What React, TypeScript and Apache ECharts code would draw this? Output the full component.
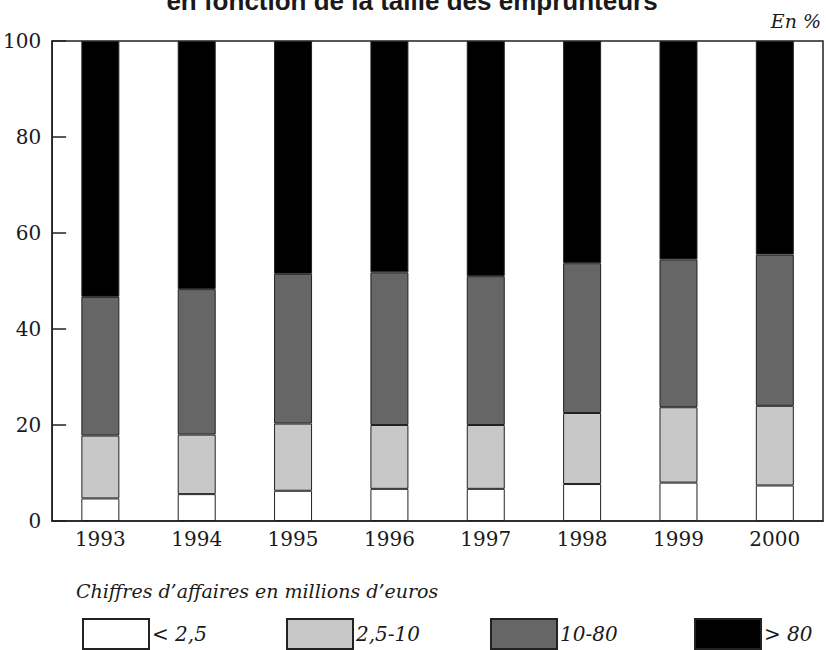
import React, { useEffect, useRef } from "react";
import * as echarts from "echarts";

const years = ["1993", "1994", "1995", "1996", "1997", "1998", "1999", "2000"];
const seriesNames = ["< 2,5", "2,5-10", "10-80", "> 80"];
const small = [4.7, 5.6, 6.3, 6.7, 6.7, 7.7, 8.0, 7.4];
const mediumSmall = [13.1, 12.4, 14.0, 13.3, 13.3, 14.8, 15.7, 16.6];
const mediumLarge = [28.9, 30.3, 31.2, 31.8, 31.0, 31.2, 30.8, 31.5];
const large = [53.3, 51.7, 48.5, 48.2, 49.0, 46.3, 45.5, 44.5];
const seriesValues = [small, mediumSmall, mediumLarge, large];
const seriesColors = ["#ffffff", "#c8c8c8", "#666666", "#000000"];
const yTicks = [0, 20, 40, 60, 80, 100];

const serif = "DejaVu Serif";
const sans = "Liberation Sans";
const ink = "#1a1a1a";

export default function App() {
  const ref = useRef<HTMLDivElement>(null);
  useEffect(() => {
    document.body.style.margin = "0";
    if (!ref.current) return;
    const chart = echarts.init(ref.current, undefined, { renderer: "svg" });
    chart.setOption({
      animation: false,
      backgroundColor: "#ffffff",
      grid: {
        left: 51,
        right: 3,
        top: 41,
        bottom: 129,
        show: true,
        borderColor: "#222222",
        borderWidth: 1.5,
        backgroundColor: "transparent",
      },
      xAxis: {
        type: "category",
        data: years,
        axisLine: { show: true, lineStyle: { color: "#222222", width: 1.5 } },
        axisTick: { show: false },
        axisLabel: { color: ink, fontFamily: serif, fontSize: 20, margin: 8 },
      },
      yAxis: {
        type: "value",
        min: yTicks[0],
        max: yTicks[yTicks.length - 1],
        interval: 20,
        axisLine: { show: true, lineStyle: { color: "#222222", width: 1.5 } },
        axisTick: { show: true, inside: true, length: 14, lineStyle: { color: "#222222", width: 1.5 } },
        splitLine: { show: false },
        axisLabel: { color: ink, fontFamily: serif, fontSize: 20, margin: 11 },
      },
      legend: seriesNames.map((name, i) => ({
        data: [name],
        left: 82 + 204 * i,
        top: 618,
        itemWidth: 66,
        itemHeight: 30,
        itemGap: 0,
        icon: "rect",
        textStyle: { color: ink, fontFamily: serif, fontStyle: "italic", fontSize: 20, padding: [0, 0, 0, -2] },
        padding: 0,
        selectedMode: false,
      })),
      series: seriesNames.map((name, i) => ({
        name,
        type: "bar",
        stack: "total",
        data: seriesValues[i],
        barWidth: 38,
        itemStyle: { color: seriesColors[i], borderColor: "#222222", borderWidth: 1 },
      })),
      graphic: [
        {
          type: "text",
          x: 412,
          y: 14,
          style: {
            text: "en fonction de la taille des emprunteurs",
            fontFamily: sans,
            fontWeight: "bold",
            fontSize: 26,
            fill: ink,
            textAlign: "center",
            textVerticalAlign: "bottom",
          },
        },
        {
          type: "text",
          x: 821,
          y: 21,
          style: {
            text: "En %",
            fontFamily: serif,
            fontStyle: "italic",
            fontSize: 19,
            fill: ink,
            textAlign: "right",
            textVerticalAlign: "middle",
          },
        },
        {
          type: "text",
          x: 76,
          y: 591,
          style: {
            text: "Chiffres d\u2019affaires en millions d\u2019euros",
            fontFamily: serif,
            fontStyle: "italic",
            fontSize: 19,
            fill: ink,
            textAlign: "left",
            textVerticalAlign: "middle",
          },
        },
      ],
    });
    return () => chart.dispose();
  }, []);
  return <div ref={ref} style={{ width: 826, height: 650 }} />;
}
